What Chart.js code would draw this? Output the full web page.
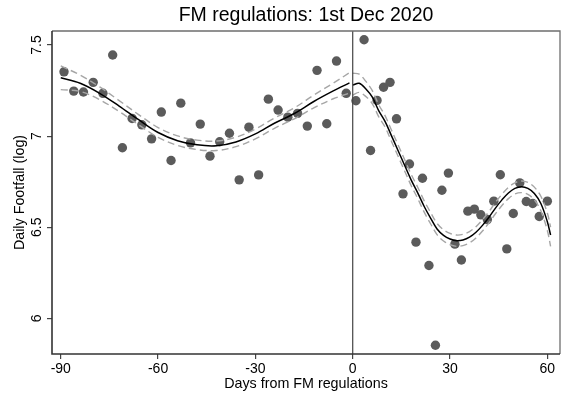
<!DOCTYPE html>
<html>
<head>
<meta charset="utf-8">
<script src="https://cdn.jsdelivr.net/npm/chart.js@4.4.1/dist/chart.umd.min.js"></script>
<style>
  html, body { margin: 0; padding: 0; background: #ffffff; }
  #wrap { width: 567px; height: 399px; }
</style>
</head>
<body>
<div id="wrap"><canvas id="c" width="567" height="399"></canvas></div>
<script>
// ---- Data ----
const preDays = [-89,-86,-83,-80,-77,-74,-71,-68,-65,-62,-59,-56,-53,-50,-47,-44,-41,-38,-35,-32,-29,-26,-23,-20,-17,-14,-11,-8,-5,-2];
const preValues = [7.353,7.247,7.242,7.295,7.235,7.445,6.936,7.097,7.062,6.985,7.132,6.866,7.181,6.963,7.066,6.890,6.969,7.016,6.760,7.049,6.787,7.203,7.143,7.104,7.125,7.055,7.361,7.068,7.412,7.235];

const postDays = [1,3.5,5.5,7.5,9.5,11.5,13.5,15.5,17.5,19.5,21.5,23.5,25.5,27.5,29.5,31.5,33.5,35.5,37.5,39.5,41.5,43.5,45.5,47.5,49.5,51.5,53.5,55.5,57.5,60];
const postValues = [7.194,7.529,6.921,7.196,7.268,7.295,7.095,6.683,6.847,6.418,6.769,6.290,5.852,6.703,6.797,6.407,6.320,6.588,6.599,6.568,6.542,6.643,6.788,6.381,6.575,6.743,6.641,6.630,6.559,6.643];

// Fitted curve (pre) and its confidence band
const preFitDays  = [-90,-84,-78,-72,-66,-60,-54,-48,-42,-36,-30,-24,-18,-12,-6,-1];
const preFit      = [7.320,7.290,7.235,7.165,7.090,7.020,6.975,6.952,6.947,6.968,7.012,7.072,7.124,7.190,7.248,7.292];
const preUpper    = [7.385,7.335,7.270,7.195,7.118,7.047,7.001,6.978,6.973,6.994,7.039,7.100,7.155,7.225,7.291,7.348];
const preLower    = [7.255,7.245,7.200,7.135,7.062,6.993,6.949,6.926,6.921,6.942,6.985,7.044,7.095,7.155,7.205,7.236];

// Fitted curve (post) and its confidence band
const postFitDays = [0,2,4,6,8,10,12,14,16,18,20,22,24,26,28,30,32,34,36,38,40,42,44,46,48,50,52,54,56,58,60,61];
const postFit     = [7.280,7.290,7.260,7.215,7.140,7.080,7.000,6.920,6.840,6.760,6.690,6.615,6.550,6.490,6.455,6.435,6.426,6.430,6.445,6.472,6.510,6.555,6.605,6.650,6.688,6.713,6.722,6.713,6.685,6.630,6.530,6.457];
const postUpper   = [7.345,7.340,7.302,7.251,7.173,7.111,7.031,6.951,6.871,6.791,6.721,6.646,6.581,6.521,6.486,6.466,6.457,6.461,6.476,6.503,6.541,6.586,6.636,6.681,6.719,6.744,6.754,6.746,6.720,6.670,6.578,6.500];
const postLower   = [7.225,7.240,7.218,7.179,7.107,7.049,6.969,6.889,6.809,6.729,6.659,6.584,6.519,6.459,6.424,6.404,6.395,6.399,6.414,6.441,6.479,6.524,6.574,6.619,6.657,6.682,6.690,6.680,6.650,6.590,6.482,6.395];

const xTickValues = [-90,-60,-30,0,30,60];
const yTickValues = [6,6.5,7,7.5];
const cutoffDay = 0;

const titleText = 'FM regulations: 1st Dec 2020';
const xTitle = 'Days from FM regulations';
const yTitle = 'Daily Footfall (log)';

// ---- Build chart ----
const X_MIN = -92.7, X_MAX = 63.9, Y_MIN = 5.804, Y_MAX = 7.577;
const toPts = (xs, ys) => xs.map((x, i) => ({x: x, y: ys[i]}));
const FONT = "'Liberation Sans', Arial, sans-serif";

const lineDs = (data, color, width, dash) => ({
  data: data, showLine: true, borderColor: color, borderWidth: width,
  borderDash: dash || [], pointRadius: 0, pointHoverRadius: 0,
  tension: 0.35, fill: false, order: 1
});

const frame = {
  id: 'frame',
  afterDatasetsDraw(chart) {
    const a = chart.chartArea, ctx = chart.ctx;
    ctx.save();
    ctx.lineWidth = 1.3;
    ctx.strokeStyle = '#6e6e6e';
    ctx.beginPath();
    ctx.moveTo(a.left, a.top); ctx.lineTo(a.right, a.top); ctx.lineTo(a.right, a.bottom);
    ctx.stroke();
    ctx.lineWidth = 1.6;
    ctx.strokeStyle = '#333333';
    ctx.beginPath();
    ctx.moveTo(a.left, a.top); ctx.lineTo(a.left, a.bottom); ctx.lineTo(a.right, a.bottom);
    ctx.stroke();
    ctx.restore();
  }
};

new Chart(document.getElementById('c'), {
  type: 'scatter',
  data: {
    datasets: [
      { data: toPts(preDays, preValues).concat(toPts(postDays, postValues)),
        backgroundColor: '#5b5b5b', borderColor: '#5b5b5b', borderWidth: 0,
        pointRadius: 4.7, pointHoverRadius: 4.7, order: 10 },
      lineDs(toPts([cutoffDay, cutoffDay], [Y_MIN, Y_MAX]), '#444444', 1.2),
      lineDs(toPts(preFitDays, preUpper), '#a6a6a6', 1.4, [7, 4]),
      lineDs(toPts(preFitDays, preLower), '#a6a6a6', 1.4, [7, 4]),
      lineDs(toPts(postFitDays, postUpper), '#a6a6a6', 1.4, [7, 4]),
      lineDs(toPts(postFitDays, postLower), '#a6a6a6', 1.4, [7, 4]),
      lineDs(toPts(preFitDays, preFit), '#000000', 1.5),
      lineDs(toPts(postFitDays, postFit), '#000000', 1.5)
    ]
  },
  options: {
    responsive: false,
    animation: false,
    events: [],
    layout: { padding: { left: 0, right: 7, top: 0, bottom: 0 } },
    plugins: {
      legend: { display: false },
      tooltip: { enabled: false },
      title: {
        display: true, text: titleText, fullSize: false,
        color: '#000000', font: { family: FONT, size: 19.5, weight: 'normal' },
        padding: { top: 4, bottom: 3.6 }
      }
    },
    scales: {
      x: {
        type: 'linear', min: X_MIN, max: X_MAX,
        afterBuildTicks: (s) => { s.ticks = xTickValues.map(v => ({value: v})); },
        afterFit: (s) => { s.height = 45; },
        grid: { drawOnChartArea: false, drawTicks: true, tickLength: 5, color: '#444444', lineWidth: 1.2 },
        border: { display: false },
        ticks: { color: '#000000', font: { family: FONT, size: 14 }, padding: 2, maxRotation: 0, autoSkip: false },
        title: { display: true, text: xTitle, color: '#000000', font: { family: FONT, size: 14.3 }, padding: { top: 0, bottom: 6 } }
      },
      y: {
        type: 'linear', min: Y_MIN, max: Y_MAX,
        afterBuildTicks: (s) => { s.ticks = yTickValues.map(v => ({value: v})); },
        afterFit: (s) => { s.width = 52; },
        grid: { drawOnChartArea: false, drawTicks: true, tickLength: 5, color: '#444444', lineWidth: 1.2 },
        border: { display: false },
        ticks: { color: '#000000', font: { family: FONT, size: 14 }, padding: 0, minRotation: 90, maxRotation: 90, crossAlign: 'center', autoSkip: false,
                 callback: (v) => String(v) },
        title: { display: true, text: yTitle, color: '#000000', font: { family: FONT, size: 14.3 }, padding: { top: 11, bottom: 0 } }
      }
    }
  },
  plugins: [frame]
});
</script>
</body>
</html>
